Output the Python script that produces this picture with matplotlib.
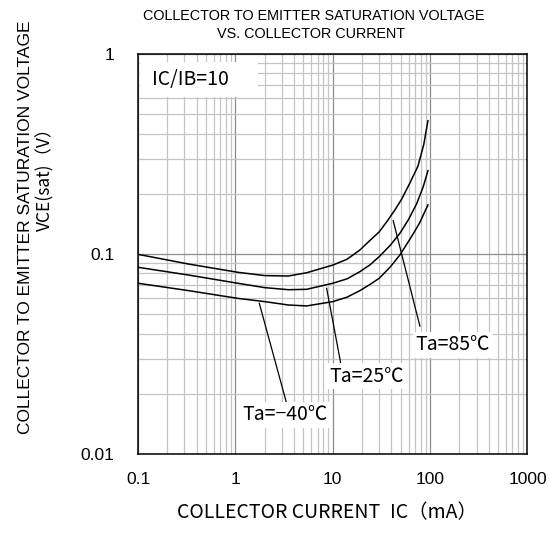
import matplotlib
matplotlib.use('Agg')
import matplotlib.pyplot as plt
from matplotlib.patches import Rectangle

# Data
ic_85 = [0.1, 0.33, 1.06, 2.0, 3.5, 5.4, 10, 14, 19, 24, 30, 37, 44, 51, 62, 75, 86, 95]
vce_85 = [0.0996, 0.0891, 0.081, 0.078, 0.0776, 0.0806, 0.088, 0.0941, 0.1047, 0.1167,
          0.129, 0.148, 0.1676, 0.188, 0.2265, 0.275, 0.352, 0.464]

ic_25 = [0.1, 0.33, 1.06, 2.0, 3.5, 5.4, 10, 14, 19, 24, 30, 39, 49, 60, 73, 85, 95]
vce_25 = [0.0858, 0.0785, 0.0714, 0.0679, 0.0663, 0.0666, 0.0714, 0.0751, 0.0816, 0.0881,
          0.097, 0.1106, 0.127, 0.1487, 0.179, 0.217, 0.261]

ic_m40 = [0.1, 0.33, 1.06, 2.0, 3.5, 5.4, 10, 14, 19, 24, 30, 39, 49, 65, 78, 95]
vce_m40 = [0.0714, 0.0656, 0.060, 0.0578, 0.0556, 0.055, 0.0578, 0.0608, 0.0656, 0.0703,
           0.0756, 0.0862, 0.099, 0.123, 0.143, 0.176]

x_ticks = [0.1, 1, 10, 100, 1000]
x_ticklabels = ['0.1', '1', '10', '100', '1000']
y_ticks = [0.01, 0.1, 1]
y_ticklabels = ['0.01', '0.1', '1']

jp = ['Noto Sans CJK JP', 'DejaVu Sans']
latin = ['Liberation Sans', 'DejaVu Sans']

fig = plt.figure(figsize=(5.49, 5.33), dpi=100)
ax = fig.add_axes([0.2514, 0.1482, 0.7094, 0.7505])

ax.set_xscale('log')
ax.set_yscale('log')
ax.set_xlim(0.1, 1000)
ax.set_ylim(0.01, 1)

ax.grid(True, which='minor', color='#c4c4c4', linewidth=0.9)
ax.grid(True, which='major', color='#8c8c8c', linewidth=0.9)

for x, y in [(ic_85, vce_85), (ic_25, vce_25), (ic_m40, vce_m40)]:
    ax.plot(x, y, color='black', linewidth=1.1, zorder=3, solid_joinstyle='round')

# pointer lines and labels
labels = [
    ((41.8, 0.1467), (78.5, 0.0436), (171, 0.0351), 'Ta=85℃'),
    ((8.65, 0.0674), (12.05, 0.0286), (22.4, 0.0245), 'Ta=25℃'),
    ((1.76, 0.0567), (3.41, 0.01744), (3.23, 0.01567), 'Ta=−40℃'),
]
for p0, p1, pt, txt in labels:
    ax.plot([p0[0], p1[0]], [p0[1], p1[1]], color='black', linewidth=0.9, zorder=3)
    ax.text(pt[0], pt[1], txt, ha='center', va='center', fontsize=14, family=jp,
            zorder=4, bbox=dict(facecolor='white', edgecolor='none', pad=2))

ax.add_patch(Rectangle((0.005, 0.8925), 0.303, 0.0875, transform=ax.transAxes,
                       facecolor='white', edgecolor='none', zorder=2))
ax.text(0.036, 0.935, 'IC/IB=10', transform=ax.transAxes, ha='left', va='center',
        fontsize=14, family=jp, zorder=4)

ax.set_xticks(x_ticks)
ax.set_xticklabels(x_ticklabels, family=latin, fontsize=12.5)
ax.set_yticks(y_ticks)
ax.set_yticklabels(y_ticklabels, family=latin, fontsize=12.5)
ax.tick_params(which='both', length=0)
ax.tick_params(axis='x', pad=13)
ax.tick_params(axis='y', pad=17)

for s in ax.spines.values():
    s.set_linewidth(1.1)
    s.set_color('black')

fig.text(0.571, 0.970, 'COLLECTOR TO EMITTER SATURATION VOLTAGE', ha='center', va='center',
         fontsize=10.4, family=latin)
fig.text(0.567, 0.936, 'VS. COLLECTOR CURRENT', ha='center', va='center',
         fontsize=10.4, family=latin)

fig.text(0.596, 0.038, 'COLLECTOR CURRENT\u2002IC（mA）', ha='center', va='center',
         fontsize=14, family=jp)
fig.text(0.047, 1 - 227 / 533, 'COLLECTOR TO EMITTER SATURATION VOLTAGE', rotation=90,
         ha='center', va='center', fontsize=12.5, family=latin)
fig.text(0.082, 1 - 175 / 533, 'VCE(sat)（V）', rotation=90,
         ha='center', va='center', fontsize=12.5, family=jp)

fig.savefig('out.png', dpi=100)
